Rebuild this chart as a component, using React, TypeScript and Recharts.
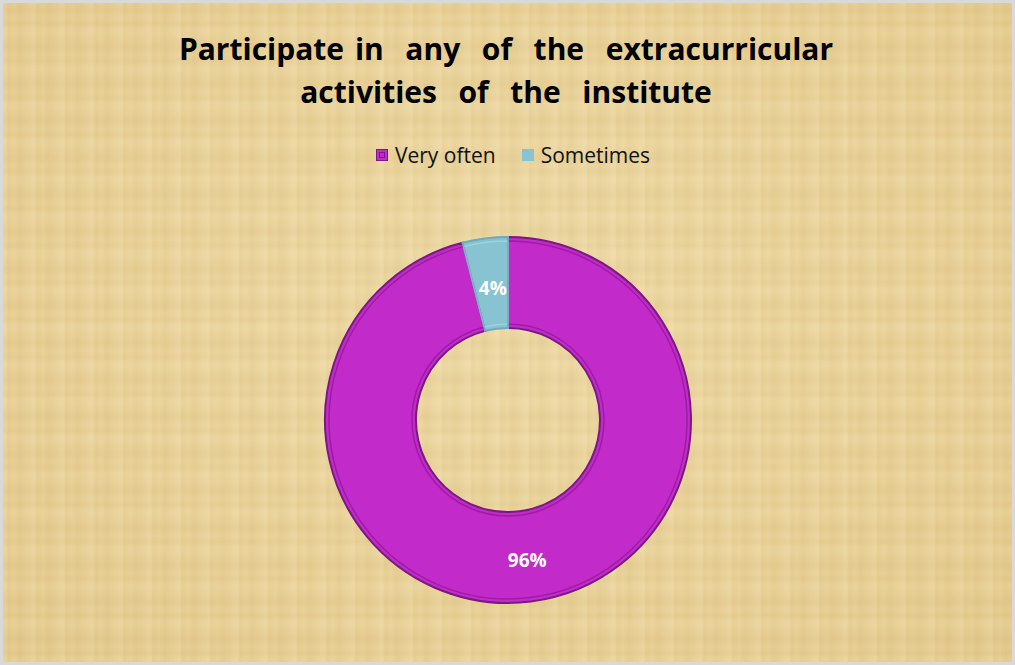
import React from "react";
import { PieChart, Pie, Cell, Legend } from "recharts";

const categories = ["Very often", "Sometimes"];
const values = [96, 4];
const percentLabels = ["96%", "4%"];
const titleLines = ["Participate in  any  of  the  extracurricular", "activities  of  the  institute"];

const fills = ["#C22BCA", "#88C3D2"];
const strokes = ["#7A1983", "#6FA9BA"];

const data = categories.map((name, i) => ({ name, value: values[i], label: percentLabels[i] }));

const RAD = Math.PI / 180;
const FONT = "'Open Sans', Lato, sans-serif";

const renderLabel = (props: any) => {
  const { cx, cy, midAngle, innerRadius, outerRadius, index } = props;
  const r = (innerRadius + outerRadius) / 2;
  const x = cx + r * Math.cos(-midAngle * RAD);
  const y = cy + r * Math.sin(-midAngle * RAD);
  return (
    <text
      x={x + 2}
      y={y + 4}
      fill="#FFFFFF"
      textAnchor="middle"
      dominantBaseline="central"
      style={{ fontFamily: FONT, fontWeight: 700, fontSize: 19 }}
    >
      {data[index].label}
    </text>
  );
};

const renderLegend = () => (
  <div
    style={{
      display: "flex",
      justifyContent: "center",
      alignItems: "center",
      fontFamily: FONT,
      fontSize: 21,
      lineHeight: "22px",
      height: 22,
      color: "#111",
      gap: 26,
    }}
  >
    {data.map((d, i) => (
      <div key={d.name} style={{ display: "flex", alignItems: "center" }}>
        <span
          style={{
            display: "inline-block",
            width: 12,
            height: 12,
            background: fills[i],
            border: i === 0 ? `1px solid ${strokes[0]}` : "none",
            marginRight: 7,
            boxSizing: "border-box",
            position: "relative",
          }}
        >
          {i === 0 && (
            <span
              style={{
                position: "absolute",
                left: 2,
                top: 2,
                width: 6,
                height: 6,
                border: `1px solid ${strokes[0]}`,
                boxSizing: "border-box",
              }}
            />
          )}
        </span>
        <span>{d.name}</span>
      </div>
    ))}
  </div>
);

const background = [
  "repeating-linear-gradient(90deg, rgba(255,245,210,0.12) 0px, rgba(255,245,210,0.12) 3px, rgba(190,160,90,0.06) 5px, rgba(255,245,210,0.03) 11px, rgba(190,160,90,0.08) 17px, rgba(255,245,210,0.10) 29px)",
  "repeating-linear-gradient(0deg, rgba(255,245,210,0.10) 0px, rgba(255,245,210,0.10) 4px, rgba(190,160,90,0.06) 9px, rgba(255,245,210,0.04) 15px, rgba(190,160,90,0.08) 23px, rgba(255,245,210,0.10) 37px)",
  "radial-gradient(ellipse at 50% 45%, #EDD8A4 0%, #E8D096 60%, #E3C98C 100%)",
].join(", ");

export default function App() {
  return (
    <div
      style={{
        position: "absolute",
        left: 0,
        top: 0,
        width: 1015,
        height: 665,
        boxSizing: "border-box",
        border: "3px solid #D9D9D9",
        background,
        overflow: "hidden",
      }}
    >
      <div
        style={{
          position: "absolute",
          left: 0,
          top: 24,
          width: 1006,
          textAlign: "center",
          fontFamily: FONT,
          fontWeight: 700,
          fontSize: 30,
          lineHeight: "43px",
          wordSpacing: 3,
          color: "#000",
          whiteSpace: "pre",
        }}
      >
        {titleLines.map((l) => (
          <div key={l}>{l}</div>
        ))}
      </div>
      <div style={{ position: "absolute", left: -3, top: -3 }}>
        <PieChart width={1015} height={665}>
          <Legend
            verticalAlign="top"
            content={renderLegend}
            wrapperStyle={{ top: 144, left: 0, width: 1026, height: 22 }}
          />
          <Pie
            data={data}
            dataKey="value"
            nameKey="name"
            cx={503}
            cy={393}
            innerRadius={92}
            outerRadius={183}
            startAngle={90}
            endAngle={-270}
            stroke="none"
            label={renderLabel}
            labelLine={false}
            isAnimationActive={false}
          >
            {data.map((d, i) => (
              <Cell key={d.name} fill={fills[i]} stroke={strokes[i]} strokeWidth={2} />
            ))}
          </Pie>
          <Pie
            data={data}
            dataKey="value"
            nameKey="name"
            cx={503}
            cy={393}
            innerRadius={96}
            outerRadius={179}
            startAngle={90}
            endAngle={-270}
            fill="none"
            legendType="none"
            isAnimationActive={false}
          >
            {data.map((d, i) => (
              <Cell
                key={d.name}
                fill="none"
                stroke={i === 0 ? "rgba(110,10,120,0.45)" : "rgba(170,220,232,0.6)"}
                strokeWidth={1.5}
              />
            ))}
          </Pie>
        </PieChart>
      </div>
    </div>
  );
}
